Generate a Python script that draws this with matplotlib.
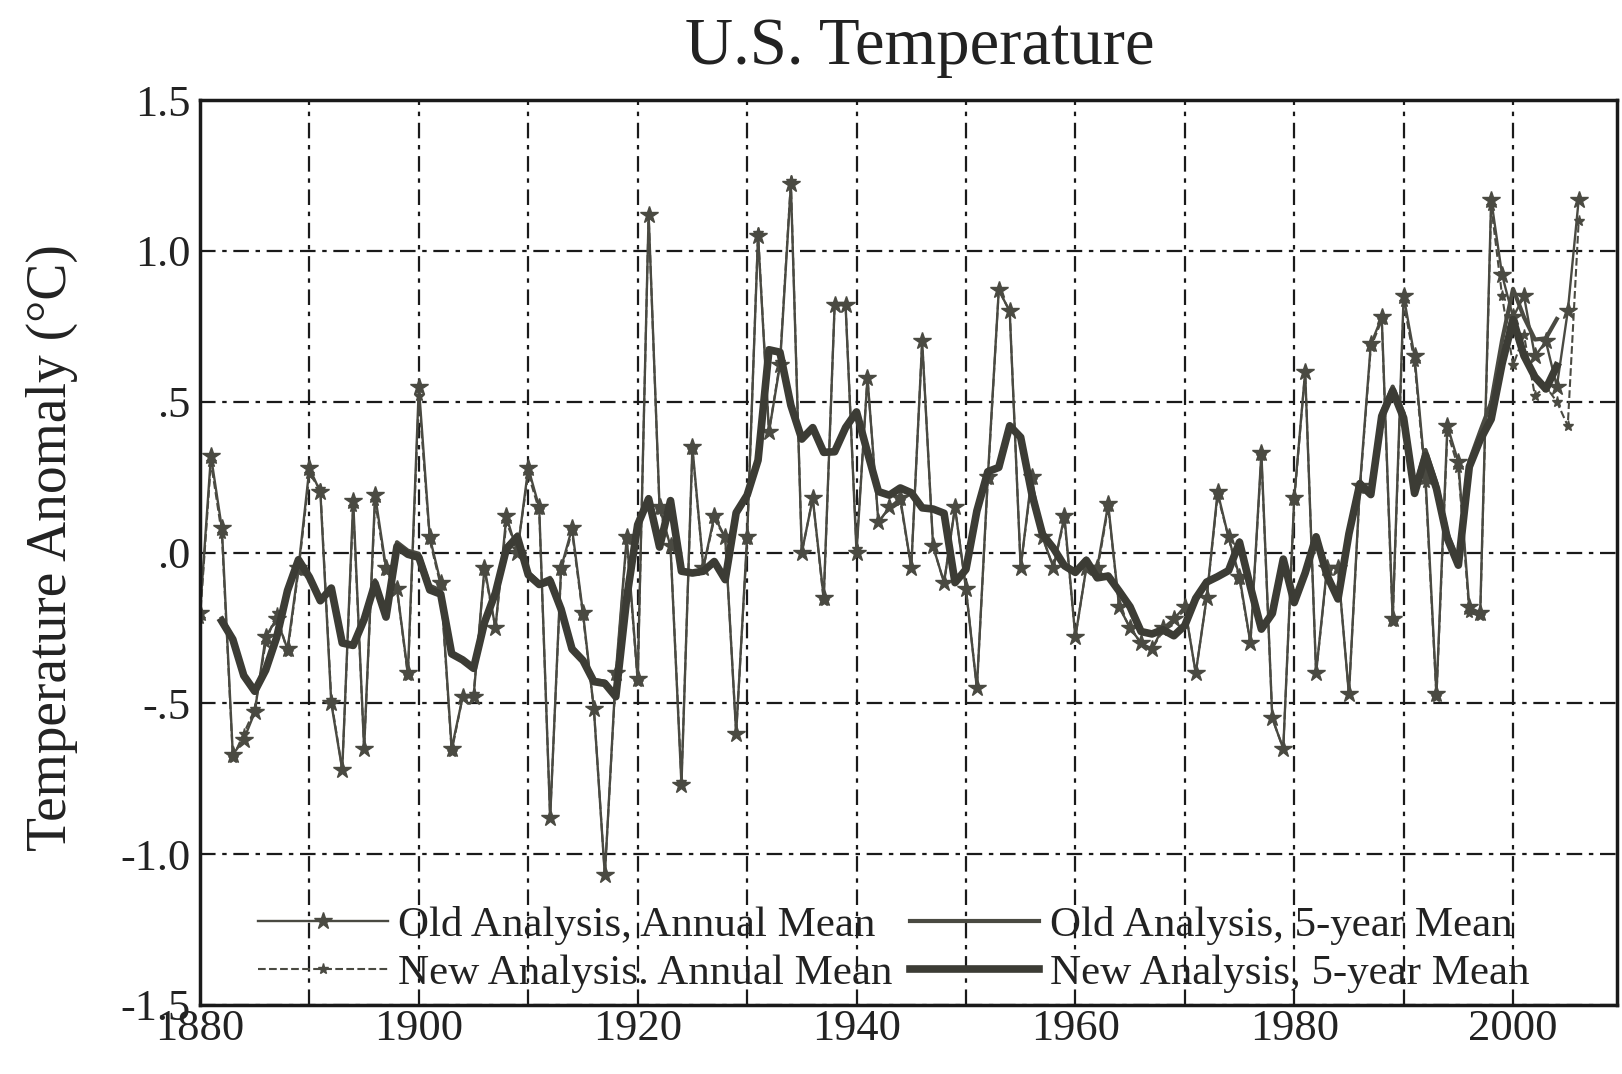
import matplotlib
matplotlib.use("Agg")
import matplotlib.pyplot as plt
import pandas as pd
from matplotlib.ticker import MultipleLocator

# annual anomalies, 1880-2006
years = list(range(1880, 2007))

old_annual = [
    -0.20, 0.32, 0.08, -0.67, -0.62, -0.53, -0.28, -0.22, -0.32, -0.05,   # 1880s
    0.28, 0.20, -0.50, -0.72, 0.17, -0.65, 0.19, -0.05, -0.12, -0.40,     # 1890s
    0.55, 0.05, -0.10, -0.65, -0.48, -0.48, -0.05, -0.25, 0.12, 0.00,     # 1900s
    0.28, 0.15, -0.88, -0.05, 0.08, -0.20, -0.52, -1.07, -0.40, 0.05,     # 1910s
    -0.42, 1.12, 0.15, 0.02, -0.77, 0.35, -0.05, 0.12, 0.05, -0.60,       # 1920s
    0.05, 1.05, 0.40, 0.62, 1.22, 0.00, 0.18, -0.15, 0.82, 0.82,          # 1930s
    0.00, 0.58, 0.10, 0.15, 0.18, -0.05, 0.70, 0.02, -0.10, 0.15,         # 1940s
    -0.12, -0.45, 0.25, 0.87, 0.80, -0.05, 0.25, 0.05, -0.05, 0.12,       # 1950s
    -0.28, -0.05, -0.05, 0.16, -0.18, -0.25, -0.30, -0.32, -0.25, -0.22,  # 1960s
    -0.18, -0.40, -0.15, 0.20, 0.05, -0.08, -0.30, 0.33, -0.55, -0.65,    # 1970s
    0.18, 0.60, -0.40, -0.05, -0.05, -0.47, 0.22, 0.69, 0.78, -0.22,      # 1980s
    0.85, 0.65, 0.25, -0.47, 0.42, 0.30, -0.18, -0.20, 1.17, 0.92,        # 1990s
    0.78, 0.85, 0.65, 0.70, 0.55, 0.80, 1.17,                             # 2000s
]

new_annual = [
    -0.22, 0.30, 0.06, -0.68, -0.60, -0.52, -0.30, -0.20, -0.33, -0.06,
    0.26, 0.21, -0.49, -0.72, 0.15, -0.65, 0.17, -0.06, -0.12, -0.41,
    0.52, 0.04, -0.11, -0.66, -0.48, -0.47, -0.06, -0.25, 0.10, 0.01,
    0.26, 0.14, -0.88, -0.06, 0.07, -0.21, -0.52, -1.07, -0.41, 0.04,
    -0.43, 1.12, 0.14, 0.02, -0.76, 0.34, -0.05, 0.11, 0.05, -0.60,
    0.04, 1.06, 0.40, 0.63, 1.23, 0.00, 0.18, -0.16, 0.82, 0.82,
    0.01, 0.58, 0.10, 0.15, 0.17, -0.05, 0.70, 0.02, -0.10, 0.15,
    -0.12, -0.45, 0.24, 0.87, 0.80, -0.05, 0.24, 0.05, -0.05, 0.11,
    -0.28, -0.05, -0.06, 0.15, -0.18, -0.25, -0.30, -0.32, -0.26, -0.22,
    -0.18, -0.40, -0.15, 0.19, 0.05, -0.09, -0.30, 0.32, -0.55, -0.65,
    0.17, 0.60, -0.40, -0.06, -0.05, -0.47, 0.21, 0.68, 0.77, -0.23,
    0.83, 0.63, 0.23, -0.48, 0.40, 0.28, -0.20, -0.21, 1.15, 0.85,
    0.62, 0.72, 0.52, 0.55, 0.50, 0.42, 1.10,
]

y_ticks = [-1.5, -1.0, -0.5, 0.0, 0.5, 1.0, 1.5]
y_tick_labels = ["-1.5", "-1.0", "-.5", ".0", ".5", "1.0", "1.5"]
x_ticks = [1880, 1900, 1920, 1940, 1960, 1980, 2000]

plt.rcParams['font.family'] = ['Liberation Serif', 'DejaVu Serif']

old = pd.Series(old_annual, index=years)
new = pd.Series(new_annual, index=years)
# 5-year running means
old_5yr = old.rolling(5, center=True).mean().dropna()
new_5yr = new.rolling(5, center=True).mean().dropna()

ink = '#4a4a42'

fig = plt.figure(figsize=(16.22, 10.74), dpi=100)
ax = fig.add_axes([200 / 1622, 1 - 1005 / 1074, 1417 / 1622, 905 / 1074])

ax.plot(old.index, old.values, '-', color=ink, lw=1.7, marker='*', ms=13,
        label='Old Analysis, Annual Mean')
ax.plot(new.index, new.values, '--', color=ink, lw=1.5, marker='*', ms=8,
        label='New Analysis. Annual Mean')
ax.plot(old_5yr.index, old_5yr.values, '-', color=ink, lw=3,
        label='Old Analysis, 5-year Mean')
ax.plot(new_5yr.index, new_5yr.values, '-', color='#3c3c35', lw=5.5,
        label='New Analysis, 5-year Mean')

ax.set_xlim(1880, 2009.5)
ax.set_ylim(-1.5, 1.5)
ax.set_xticks(x_ticks)
ax.xaxis.set_minor_locator(MultipleLocator(10))
ax.set_yticks(y_ticks)
ax.set_yticklabels(y_tick_labels)
ax.tick_params(axis='both', which='both', length=0, labelsize=32, colors='#222222')
ax.tick_params(axis='x', pad=3)
ax.tick_params(axis='y', pad=7)

grid_style = dict(color='#1a1a1a', lw=1.6, linestyle=(0, (7, 3, 2, 3)))
ax.grid(True, which='both', axis='x', **grid_style)
ax.grid(True, which='major', axis='y', **grid_style)

for side in ax.spines.values():
    side.set_linewidth(2.5)
    side.set_color('#1a1a1a')

fig.text(920 / 1622, 1 - 47 / 1074, 'U.S. Temperature', fontsize=48,
         ha='center', va='center', color='#222222')
fig.text(52 / 1622, 1 - 548 / 1074, 'Temperature Anomaly (°C)', fontsize=40,
         rotation=90, ha='center', va='center', color='#222222')

ax.legend(loc='lower left', bbox_to_anchor=(0.02, -0.02), ncol=2, frameon=False,
          fontsize=31, handlelength=3.0, handletextpad=0.25, columnspacing=0.4,
          labelspacing=0.2, borderpad=0.2, labelcolor='#222222')

fig.savefig('out.png', dpi=100, facecolor='white')
